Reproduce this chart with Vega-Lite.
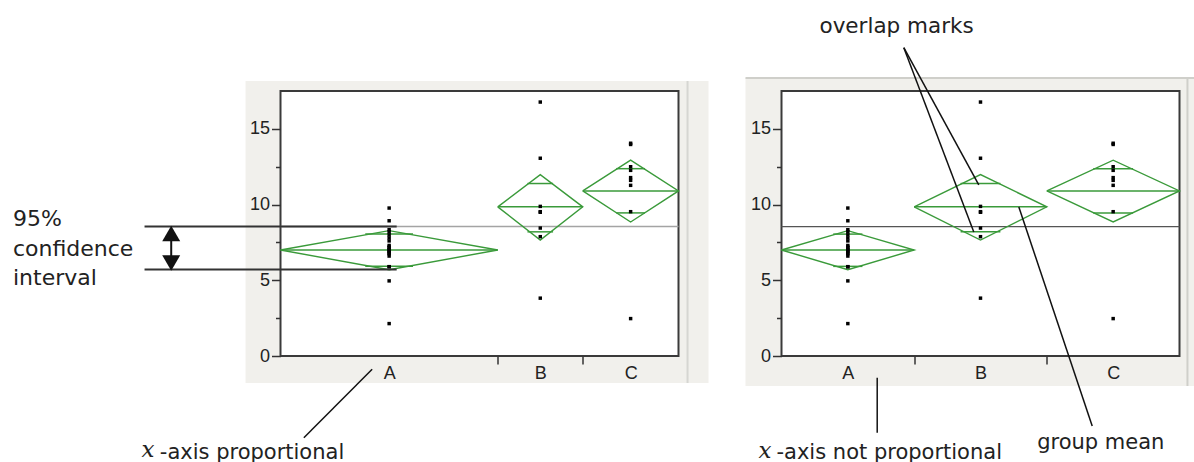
{
  "$schema": "https://vega.github.io/schema/vega-lite/v6.json",
  "background": "white",
  "autosize": {"type": "pad"},
  "padding": {"left": 12.5, "top": 15, "right": 0, "bottom": 0},
  "config": {
    "view": {"stroke": null},
    "axis": {"labelFont": "Liberation Sans", "labelFontSize": 18, "labelColor": "#222222", "tickColor": "#333333", "tickWidth": 1.5, "domain": false, "grid": false, "labelFlush": false, "labelOverlap": false, "zindex": 2}
  },
  "datasets": {
    "grp": [
      {"group": "A", "cL": 10.1, "cR": 0.5},
      {"group": "B", "cL": 24.15, "cR": 1.5},
      {"group": "C", "cL": 32.55, "cR": 2.5}
    ],
    "pts": [
      {"group": "A", "v": 9.77}, {"group": "A", "v": 8.93}, {"group": "A", "v": 8.34}, {"group": "A", "v": 8.2}, {"group": "A", "v": 8.0},
      {"group": "A", "v": 7.8}, {"group": "A", "v": 7.6}, {"group": "A", "v": 7.3}, {"group": "A", "v": 7.2}, {"group": "A", "v": 7.15},
      {"group": "A", "v": 7.0}, {"group": "A", "v": 7.0}, {"group": "A", "v": 6.9}, {"group": "A", "v": 6.8}, {"group": "A", "v": 6.75},
      {"group": "A", "v": 6.6}, {"group": "A", "v": 5.9}, {"group": "A", "v": 5.89}, {"group": "A", "v": 4.96}, {"group": "A", "v": 2.14},
      {"group": "B", "v": 16.77}, {"group": "B", "v": 13.06}, {"group": "B", "v": 9.88}, {"group": "B", "v": 9.53},
      {"group": "B", "v": 9.49}, {"group": "B", "v": 8.45}, {"group": "B", "v": 7.88}, {"group": "B", "v": 3.82},
      {"group": "C", "v": 14.05}, {"group": "C", "v": 13.97}, {"group": "C", "v": 12.5}, {"group": "C", "v": 12.26},
      {"group": "C", "v": 11.78}, {"group": "C", "v": 11.6}, {"group": "C", "v": 11.27}, {"group": "C", "v": 9.53}, {"group": "C", "v": 2.47}
    ],
    "dia": [
      {"group": "A", "i": 0, "xL": 0, "xR": 0, "y": 7.0},
      {"group": "A", "i": 1, "xL": 10.1, "xR": 0.5, "y": 8.28},
      {"group": "A", "i": 2, "xL": 20.2, "xR": 1, "y": 7.0},
      {"group": "A", "i": 3, "xL": 10.1, "xR": 0.5, "y": 5.7},
      {"group": "A", "i": 4, "xL": 0, "xR": 0, "y": 7.0},
      {"group": "B", "i": 0, "xL": 20.2, "xR": 1, "y": 9.85},
      {"group": "B", "i": 1, "xL": 24.15, "xR": 1.5, "y": 11.98},
      {"group": "B", "i": 2, "xL": 28.1, "xR": 2, "y": 9.85},
      {"group": "B", "i": 3, "xL": 24.15, "xR": 1.5, "y": 7.66},
      {"group": "B", "i": 4, "xL": 20.2, "xR": 1, "y": 9.85},
      {"group": "C", "i": 0, "xL": 28.1, "xR": 2, "y": 10.9},
      {"group": "C", "i": 1, "xL": 32.55, "xR": 2.5, "y": 12.93},
      {"group": "C", "i": 2, "xL": 37, "xR": 3, "y": 10.9},
      {"group": "C", "i": 3, "xL": 32.55, "xR": 2.5, "y": 8.85},
      {"group": "C", "i": 4, "xL": 28.1, "xR": 2, "y": 10.9}
    ],
    "seg": [
      {"group": "A", "kind": "mean", "xL1": 0, "xL2": 20.2, "xR1": 0, "xR2": 1, "y": 7.0},
      {"group": "A", "kind": "over", "xL1": 7.88, "xL2": 12.32, "xR1": 0.39, "xR2": 0.61, "y": 8.05},
      {"group": "A", "kind": "over", "xL1": 7.88, "xL2": 12.32, "xR1": 0.39, "xR2": 0.61, "y": 5.92},
      {"group": "B", "kind": "mean", "xL1": 20.2, "xL2": 28.1, "xR1": 1, "xR2": 2, "y": 9.85},
      {"group": "B", "kind": "over", "xL1": 22.96, "xL2": 25.34, "xR1": 1.35, "xR2": 1.65, "y": 11.39},
      {"group": "B", "kind": "over", "xL1": 22.96, "xL2": 25.34, "xR1": 1.35, "xR2": 1.65, "y": 8.2},
      {"group": "C", "kind": "mean", "xL1": 28.1, "xL2": 37, "xR1": 2, "xR2": 3, "y": 10.9},
      {"group": "C", "kind": "over", "xL1": 31.21, "xL2": 33.89, "xR1": 2.35, "xR2": 2.65, "y": 12.37},
      {"group": "C", "kind": "over", "xL1": 31.21, "xL2": 33.89, "xR1": 2.35, "xR2": 2.65, "y": 9.45}
    ],
    "panelL": [{"x": -3.25, "x2": 39.79, "y": -1.78, "y2": 18.16}],
    "frameL": [{"x": 0, "x2": 37, "y": 0, "y2": 17.5}],
    "panelR": [{"x": -0.2714, "x2": 3.113, "y": -1.98, "y2": 18.36}],
    "frameR": [{"x": 0, "x2": 3, "y": 0, "y2": 17.5}],
    "lnL": [
      {"kind": "sep", "x": 37.84, "y": 18.16, "x2": 37.84, "y2": -1.78},
      {"kind": "gm", "x": 0, "y": 8.55, "x2": 37, "y2": 8.55},
      {"kind": "ci", "x": -12.64, "y": 8.55, "x2": 10.8, "y2": 8.55},
      {"kind": "ci", "x": -12.64, "y": 5.71, "x2": 10.8, "y2": 5.71},
      {"kind": "shaft", "x": -10.16, "y": 8.0, "x2": -10.16, "y2": 6.2},
      {"kind": "ptr", "x": 8.52, "y": -0.878, "x2": 2.17, "y2": -5.395}
    ],
    "arL": [
      {"dir": "up", "x": -10.16, "y": 8.09},
      {"dir": "down", "x": -10.16, "y": 6.14}
    ],
    "txL": [
      {"kind": "ci", "text": "95%", "x": -24.87, "y": 8.585},
      {"kind": "ci", "text": "confidence", "x": -24.87, "y": 6.604},
      {"kind": "ci", "text": "interval", "x": -24.87, "y": 4.689},
      {"kind": "sans", "text": "-axis proportional", "x": -11.22, "y": -6.8},
      {"kind": "ital", "text": "x", "x": -12.92, "y": -6.7}
    ],
    "lnR": [
      {"kind": "border", "x": -0.2714, "y": 18.36, "x2": 3.113, "y2": 18.36},
      {"kind": "border", "x": 3.06, "y": 18.36, "x2": 3.06, "y2": -1.98},
      {"kind": "gm", "x": 0, "y": 8.55, "x2": 3, "y2": 8.55},
      {"kind": "ptr", "x": 0.922, "y": 20.36, "x2": 1.487, "y2": 11.3},
      {"kind": "ptr", "x": 0.922, "y": 20.36, "x2": 1.4495, "y2": 8.19},
      {"kind": "ptr", "x": 2.342, "y": -4.62, "x2": 1.789, "y2": 9.84},
      {"kind": "ptr", "x": 0.7214, "y": -1.433, "x2": 0.7214, "y2": -5.065}
    ],
    "txR": [
      {"kind": "top", "text": "overlap marks", "x": 0.2864, "y": 21.35},
      {"kind": "sans", "text": "group mean", "x": 1.927, "y": -6.14},
      {"kind": "sans", "text": "-axis not proportional", "x": -0.0377, "y": -6.82},
      {"kind": "ital", "text": "x", "x": -0.173, "y": -6.72}
    ]
  },
  "spacing": 103,
  "bounds": "flush",
  "hconcat": [
    {
      "width": 398,
      "height": 265,
      "encoding": {
        "x": {"type": "quantitative", "title": null, "scale": {"domain": [0, 37], "nice": false, "zero": false},
          "axis": {"values": [10.1, 20.2, 24.15, 28.1, 32.55], "zindex": 2, "title": null,
            "labelFont": "Liberation Sans", "labelFontSize": 18, "labelColor": "#222222",
            "labelExpr": "datum.value == 10.1 ? 'A' : datum.value == 24.15 ? 'B' : datum.value == 32.55 ? 'C' : ''",
            "tickOpacity": {"condition": {"test": "datum.value == 20.2 || datum.value == 28.1", "value": 1}, "value": 0},
            "tickSize": 8, "labelPadding": 0}},
        "y": {"type": "quantitative", "title": null, "scale": {"domain": [0, 17.5], "nice": false, "zero": false},
          "axis": {"values": [0, 2.5, 5, 7.5, 10, 12.5, 15], "zindex": 2, "title": null,
            "labelFont": "Liberation Sans", "labelFontSize": 18, "labelColor": "#222222",
            "labelExpr": "datum.value % 5 == 0 ? datum.label : ''",
            "tickSize": {"condition": {"test": "datum.value % 5 == 0", "value": 9}, "value": 5},
            "labelPadding": 2}}
      },
      "layer": [
        {
          "data": {"name": "panelL"},
          "mark": {"type": "rect", "fill": "#f1f0ec"},
          "encoding": {"x": {"field": "x"}, "x2": {"field": "x2"}, "y": {"field": "y"}, "y2": {"field": "y2"}}
        },
        {
          "data": {"name": "lnL"},
          "transform": [{"filter": "datum.kind == 'sep'"}],
          "mark": {"type": "rule", "color": "#d6d6d2", "strokeWidth": 2},
          "encoding": {"x": {"field": "x"}, "x2": {"field": "x2"}, "y": {"field": "y"}, "y2": {"field": "y2"}}
        },
        {
          "data": {"name": "frameL"},
          "mark": {"type": "rect", "fill": "white", "stroke": "#3a3a3a", "strokeWidth": 2},
          "encoding": {"x": {"field": "x"}, "x2": {"field": "x2"}, "y": {"field": "y"}, "y2": {"field": "y2"}}
        },
        {
          "data": {"name": "lnL"},
          "transform": [{"filter": "datum.kind == 'gm'"}],
          "mark": {"type": "rule", "color": "#a4a4a4", "strokeWidth": 1.5},
          "encoding": {"x": {"field": "x"}, "x2": {"field": "x2"}, "y": {"field": "y"}, "y2": {"field": "y2"}}
        },
        {
          "data": {"name": "dia"},
          "mark": {"type": "line", "color": "#3a9a3a", "strokeWidth": 1.4},
          "encoding": {"x": {"field": "xL"}, "y": {"field": "y"}, "detail": {"field": "group"}, "order": {"field": "i", "type": "quantitative"}}
        },
        {
          "data": {"name": "seg"},
          "mark": {"type": "rule", "color": "#3a9a3a", "strokeWidth": 1.5},
          "encoding": {"x": {"field": "xL1"}, "x2": {"field": "xL2"}, "y": {"field": "y"}}
        },
        {
          "data": {"name": "pts"},
          "transform": [{"lookup": "group", "from": {"data": {"name": "grp"}, "key": "group", "fields": ["cL", "cR"]}}],
          "mark": {"type": "point", "shape": "square", "filled": true, "size": 12, "color": "#000000", "opacity": 1},
          "encoding": {"x": {"field": "cL"}, "y": {"field": "v"}}
        },
        {
          "data": {"name": "lnL"},
          "transform": [{"filter": "datum.kind == 'ci'"}],
          "mark": {"type": "rule", "color": "#333333", "strokeWidth": 2},
          "encoding": {"x": {"field": "x"}, "x2": {"field": "x2"}, "y": {"field": "y"}, "y2": {"field": "y2"}}
        },
        {
          "data": {"name": "lnL"},
          "transform": [{"filter": "datum.kind == 'shaft'"}],
          "mark": {"type": "rule", "color": "#111111", "strokeWidth": 2},
          "encoding": {"x": {"field": "x"}, "x2": {"field": "x2"}, "y": {"field": "y"}, "y2": {"field": "y2"}}
        },
        {
          "data": {"name": "lnL"},
          "transform": [{"filter": "datum.kind == 'ptr'"}],
          "mark": {"type": "rule", "color": "#111111", "strokeWidth": 1.5},
          "encoding": {"x": {"field": "x"}, "x2": {"field": "x2"}, "y": {"field": "y"}, "y2": {"field": "y2"}}
        },
        {
          "data": {"name": "arL"},
          "transform": [{"filter": "datum.dir == 'up'"}],
          "mark": {"type": "point", "shape": "triangle-up", "filled": true, "size": 324, "color": "#111111", "opacity": 1},
          "encoding": {"x": {"field": "x"}, "y": {"field": "y"}}
        },
        {
          "data": {"name": "arL"},
          "transform": [{"filter": "datum.dir == 'down'"}],
          "mark": {"type": "point", "shape": "triangle-down", "filled": true, "size": 324, "color": "#111111", "opacity": 1},
          "encoding": {"x": {"field": "x"}, "y": {"field": "y"}}
        },
        {
          "data": {"name": "txL"},
          "transform": [{"filter": "datum.kind == 'ci'"}],
          "mark": {"type": "text", "font": "DejaVu Sans", "fontSize": 22, "color": "#222222", "align": "left", "baseline": "alphabetic"},
          "encoding": {"x": {"field": "x"}, "y": {"field": "y"}, "text": {"field": "text"}}
        },
        {
          "data": {"name": "txL"},
          "transform": [{"filter": "datum.kind == 'sans'"}],
          "mark": {"type": "text", "font": "DejaVu Sans", "fontSize": 21, "color": "#222222", "align": "left", "baseline": "alphabetic"},
          "encoding": {"x": {"field": "x"}, "y": {"field": "y"}, "text": {"field": "text"}}
        },
        {
          "data": {"name": "txL"},
          "transform": [{"filter": "datum.kind == 'ital'"}],
          "mark": {"type": "text", "font": "DejaVu Serif", "fontStyle": "italic", "fontSize": 23, "color": "#222222", "align": "left", "baseline": "alphabetic"},
          "encoding": {"x": {"field": "x"}, "y": {"field": "y"}, "text": {"field": "text"}}
        }
      ]
    },
    {
      "width": 398,
      "height": 265,
      "encoding": {
        "x": {"type": "quantitative", "title": null, "scale": {"domain": [0, 3], "nice": false, "zero": false},
          "axis": {"values": [0.5, 1, 1.5, 2, 2.5], "zindex": 2, "title": null,
            "labelFont": "Liberation Sans", "labelFontSize": 18, "labelColor": "#222222",
            "labelExpr": "datum.value == 0.5 ? 'A' : datum.value == 1.5 ? 'B' : datum.value == 2.5 ? 'C' : ''",
            "tickOpacity": {"condition": {"test": "datum.value == 1 || datum.value == 2", "value": 1}, "value": 0},
            "tickSize": 8, "labelPadding": 0}},
        "y": {"type": "quantitative", "title": null, "scale": {"domain": [0, 17.5], "nice": false, "zero": false},
          "axis": {"values": [0, 2.5, 5, 7.5, 10, 12.5, 15], "zindex": 2, "title": null,
            "labelFont": "Liberation Sans", "labelFontSize": 18, "labelColor": "#222222",
            "labelExpr": "datum.value % 5 == 0 ? datum.label : ''",
            "tickSize": {"condition": {"test": "datum.value % 5 == 0", "value": 9}, "value": 5},
            "labelPadding": 2}}
      },
      "layer": [
        {
          "data": {"name": "panelR"},
          "mark": {"type": "rect", "fill": "#f1f0ec"},
          "encoding": {"x": {"field": "x"}, "x2": {"field": "x2"}, "y": {"field": "y"}, "y2": {"field": "y2"}}
        },
        {
          "data": {"name": "lnR"},
          "transform": [{"filter": "datum.kind == 'border'"}],
          "mark": {"type": "rule", "color": "#cfcfca", "strokeWidth": 2},
          "encoding": {"x": {"field": "x"}, "x2": {"field": "x2"}, "y": {"field": "y"}, "y2": {"field": "y2"}}
        },
        {
          "data": {"name": "frameR"},
          "mark": {"type": "rect", "fill": "white", "stroke": "#3a3a3a", "strokeWidth": 2},
          "encoding": {"x": {"field": "x"}, "x2": {"field": "x2"}, "y": {"field": "y"}, "y2": {"field": "y2"}}
        },
        {
          "data": {"name": "lnR"},
          "transform": [{"filter": "datum.kind == 'gm'"}],
          "mark": {"type": "rule", "color": "#555555", "strokeWidth": 1.2},
          "encoding": {"x": {"field": "x"}, "x2": {"field": "x2"}, "y": {"field": "y"}, "y2": {"field": "y2"}}
        },
        {
          "data": {"name": "dia"},
          "mark": {"type": "line", "color": "#3a9a3a", "strokeWidth": 1.4},
          "encoding": {"x": {"field": "xR"}, "y": {"field": "y"}, "detail": {"field": "group"}, "order": {"field": "i", "type": "quantitative"}}
        },
        {
          "data": {"name": "seg"},
          "mark": {"type": "rule", "color": "#3a9a3a", "strokeWidth": 1.5},
          "encoding": {"x": {"field": "xR1"}, "x2": {"field": "xR2"}, "y": {"field": "y"}}
        },
        {
          "data": {"name": "pts"},
          "transform": [{"lookup": "group", "from": {"data": {"name": "grp"}, "key": "group", "fields": ["cL", "cR"]}}],
          "mark": {"type": "point", "shape": "square", "filled": true, "size": 12, "color": "#000000", "opacity": 1},
          "encoding": {"x": {"field": "cR"}, "y": {"field": "v"}}
        },
        {
          "data": {"name": "lnR"},
          "transform": [{"filter": "datum.kind == 'ptr'"}],
          "mark": {"type": "rule", "color": "#111111", "strokeWidth": 1.5},
          "encoding": {"x": {"field": "x"}, "x2": {"field": "x2"}, "y": {"field": "y"}, "y2": {"field": "y2"}}
        },
        {
          "data": {"name": "txR"},
          "transform": [{"filter": "datum.kind == 'top'"}],
          "mark": {"type": "text", "font": "DejaVu Sans", "fontSize": 21.5, "color": "#222222", "align": "left", "baseline": "alphabetic"},
          "encoding": {"x": {"field": "x"}, "y": {"field": "y"}, "text": {"field": "text"}}
        },
        {
          "data": {"name": "txR"},
          "transform": [{"filter": "datum.kind == 'sans'"}],
          "mark": {"type": "text", "font": "DejaVu Sans", "fontSize": 21, "color": "#222222", "align": "left", "baseline": "alphabetic"},
          "encoding": {"x": {"field": "x"}, "y": {"field": "y"}, "text": {"field": "text"}}
        },
        {
          "data": {"name": "txR"},
          "transform": [{"filter": "datum.kind == 'ital'"}],
          "mark": {"type": "text", "font": "DejaVu Serif", "fontStyle": "italic", "fontSize": 23, "color": "#222222", "align": "left", "baseline": "alphabetic"},
          "encoding": {"x": {"field": "x"}, "y": {"field": "y"}, "text": {"field": "text"}}
        }
      ]
    }
  ]
}
